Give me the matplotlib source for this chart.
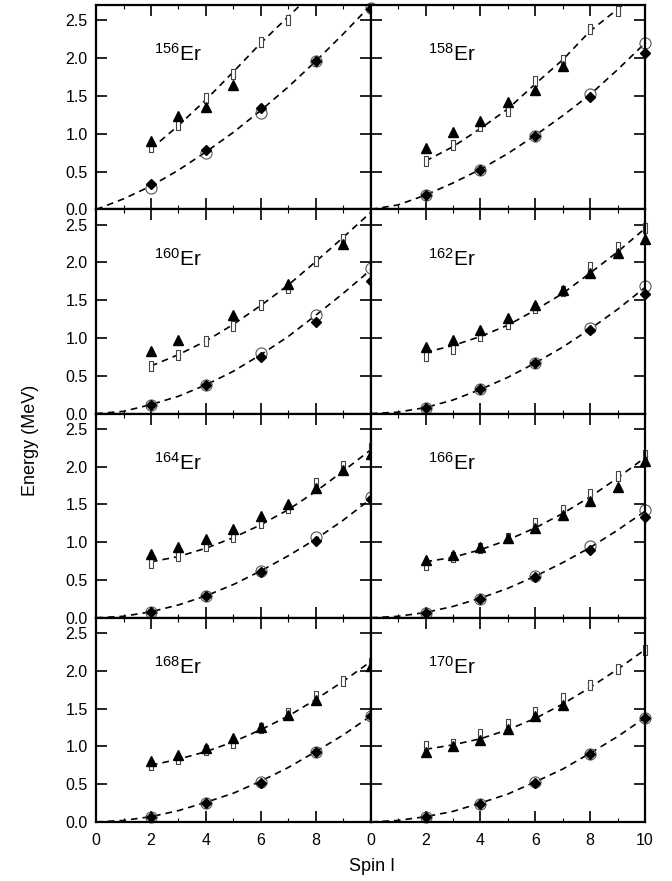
import numpy as np
import matplotlib
matplotlib.use('Agg')
import matplotlib.pyplot as plt
from matplotlib.ticker import MultipleLocator, FixedLocator

plt.rcParams['font.family'] = ['Liberation Sans', 'DejaVu Sans']
plt.rcParams['mathtext.fontset'] = 'custom'
plt.rcParams['mathtext.rm'] = 'Liberation Sans'
plt.rcParams['mathtext.default'] = 'rm'

nan = np.nan

# nuclei, in panel order (row by row)
nuclei = ['156', '158', '160', '162', '164', '166', '168', '170']

# ground band
gs_spin = [2, 4, 6, 8, 10]
gs_exp = [
    [0.34, 0.79, 1.34, 1.96, 2.65],
    [0.19, 0.52, 0.97, 1.49, 2.07],
    [0.12, 0.38, 0.75, 1.21, 1.75],
    [0.08, 0.32, 0.67, 1.10, 1.58],
    [0.08, 0.29, 0.60, 1.02, 1.57],
    [0.07, 0.25, 0.54, 0.90, 1.33],
    [0.07, 0.25, 0.52, 0.92, 1.40],
    [0.07, 0.24, 0.52, 0.90, 1.37],
]
gs_th = [
    [0.29, 0.74, 1.28, 1.96, 2.67],
    [0.19, 0.52, 0.97, 1.53, 2.20],
    [0.12, 0.38, 0.80, 1.31, 1.92],
    [0.08, 0.32, 0.67, 1.13, 1.69],
    [0.08, 0.29, 0.62, 1.07, 1.60],
    [0.07, 0.25, 0.55, 0.95, 1.42],
    [0.07, 0.25, 0.53, 0.92, 1.40],
    [0.07, 0.24, 0.53, 0.90, 1.38],
]

# gamma band
gb_spin = [2, 3, 4, 5, 6, 7, 8, 9, 10]
gb_exp = [
    [0.91, 1.23, 1.35, 1.65, nan, nan, nan, nan, nan],
    [0.81, 1.03, 1.17, 1.42, 1.58, 1.90, nan, nan, nan],
    [0.83, 0.97, nan, 1.30, nan, 1.71, nan, 2.24, nan],
    [0.88, 0.98, 1.10, 1.26, 1.43, 1.64, 1.86, 2.12, 2.31],
    [0.84, 0.93, 1.04, 1.18, 1.34, 1.51, 1.72, 1.95, 2.17],
    [0.76, 0.83, 0.93, 1.05, 1.19, 1.36, 1.54, 1.73, 2.08],
    [0.81, 0.89, 0.98, 1.11, 1.25, 1.42, 1.61, nan, 2.06],
    [0.93, 1.00, 1.09, 1.23, 1.40, 1.55, nan, nan, nan],
]
gb_th = [
    [0.82, 1.12, 1.48, 1.79, 2.21, 2.51, nan, nan, nan],
    [0.64, 0.85, 1.10, 1.30, 1.70, 1.97, 2.39, 2.63, nan],
    [0.63, 0.78, 0.96, 1.16, 1.43, 1.66, 2.02, 2.31, nan],
    [0.76, 0.86, 1.03, 1.18, 1.40, 1.62, 1.94, 2.20, 2.45],
    [0.72, 0.82, 0.95, 1.07, 1.26, 1.45, 1.78, 2.01, 2.25],
    [0.70, 0.80, 0.92, 1.05, 1.25, 1.42, 1.64, 1.87, 2.15],
    [0.75, 0.83, 0.95, 1.05, 1.24, 1.44, 1.67, 1.87, 2.10],
    [1.00, 1.03, 1.16, 1.29, 1.46, 1.64, 1.81, 2.02, 2.28],
]

# dashed curves
curve_spin = [0, 1, 2, 3, 4, 5, 6, 7, 8, 9, 10]
gs_curve = [
    [0, 0.14, 0.31, 0.52, 0.76, 1.02, 1.31, 1.62, 1.96, 2.32, 2.70],
    [0, 0.06, 0.19, 0.35, 0.53, 0.74, 0.98, 1.24, 1.52, 1.85, 2.20],
    [0, 0.03, 0.12, 0.23, 0.38, 0.56, 0.78, 1.02, 1.30, 1.59, 1.90],
    [0, 0.02, 0.08, 0.18, 0.32, 0.48, 0.67, 0.88, 1.12, 1.38, 1.67],
    [0, 0.02, 0.08, 0.17, 0.29, 0.44, 0.62, 0.82, 1.04, 1.29, 1.57],
    [0, 0.02, 0.07, 0.15, 0.26, 0.39, 0.55, 0.73, 0.93, 1.16, 1.41],
    [0, 0.02, 0.07, 0.15, 0.26, 0.38, 0.54, 0.72, 0.93, 1.15, 1.40],
    [0, 0.02, 0.07, 0.14, 0.25, 0.37, 0.53, 0.70, 0.91, 1.13, 1.38],
]
gb_curve = [
    [0.80, 1.11, 1.45, 1.82, 2.20, 2.55, 2.90, nan, nan],
    [0.64, 0.83, 1.07, 1.33, 1.66, 1.98, 2.36, 2.65, 2.95],
    [0.63, 0.78, 0.96, 1.18, 1.43, 1.70, 2.01, 2.33, 2.66],
    [0.81, 0.90, 1.02, 1.17, 1.37, 1.59, 1.86, 2.14, 2.45],
    [0.74, 0.81, 0.92, 1.06, 1.23, 1.43, 1.67, 1.94, 2.22],
    [0.74, 0.80, 0.90, 1.03, 1.19, 1.38, 1.60, 1.85, 2.12],
    [0.75, 0.83, 0.93, 1.06, 1.22, 1.40, 1.62, 1.86, 2.12],
    [0.96, 1.02, 1.10, 1.22, 1.37, 1.56, 1.78, 2.02, 2.28],
]

# tall open rectangle marker for the theory gamma points
rect = [(-0.45, -1), (0.45, -1), (0.45, 1), (-0.45, 1), (-0.45, -1)]

fig, axes = plt.subplots(4, 2, figsize=(6.72, 8.81), dpi=100)
fig.subplots_adjust(left=0.143, right=0.960, top=0.994, bottom=0.067,
                    hspace=0, wspace=0)

for k, ax in enumerate(axes.flat):
    row, col = divmod(k, 2)
    ax.plot(curve_spin, gs_curve[k], ls=(0, (4, 3)), color='k', lw=1.2)
    ax.plot(gb_spin, gb_curve[k], ls=(0, (4, 3)), color='k', lw=1.2)
    ax.plot(gs_spin, gs_th[k], ls='none', marker='o', ms=8, mfc='none',
            mec='#555555', mew=0.8, clip_on=False)
    ax.plot(gs_spin, gs_exp[k], ls='none', marker='D', ms=5.5, color='k',
            clip_on=False)
    ax.plot(gb_spin, gb_th[k], ls='none', marker=rect, ms=7, mfc='white',
            mec='#444444', mew=0.8, clip_on=False)
    ax.plot(gb_spin, gb_exp[k], ls='none', marker='^', ms=7.5, color='k',
            clip_on=False)

    ax.text(0.21, 0.76, r'$^{' + nuclei[k] + r'}$Er', transform=ax.transAxes,
            fontsize=15, ha='left', va='center')

    ax.set_xlim(0, 10)
    ax.set_ylim(0, 2.7)
    ax.xaxis.set_major_locator(MultipleLocator(2))
    ax.xaxis.set_minor_locator(FixedLocator([1, 3, 5, 7, 9]))
    ax.yaxis.set_major_locator(MultipleLocator(0.5))
    ax.tick_params(which='both', direction='in', top=True, right=True,
                   labelsize=11.5)
    ax.tick_params(which='major', length=8, width=1.2)
    ax.tick_params(which='minor', length=3, width=0.8)
    ax.tick_params(axis='x', pad=8)
    ax.tick_params(axis='y', pad=6)
    for s in ax.spines.values():
        s.set_linewidth(1.6)

    if col == 0:
        ax.set_yticklabels(['%.1f' % v for v in ax.get_yticks()])
    else:
        ax.set_yticklabels([])
    if row == 3:
        ax.set_xticks([0, 2, 4, 6, 8, 10])
        if col == 0:
            ax.set_xticklabels(['0', '2', '4', '6', '8', ''])
        else:
            ax.set_xticklabels(['0', '2', '4', '6', '8', '10'])
    else:
        ax.set_xticklabels([])

fig.text(0.045, 0.5, 'Energy (MeV)', rotation=90, ha='center', va='center',
         fontsize=13)
fig.text(0.553, 0.017, 'Spin I', ha='center', va='center', fontsize=13)

fig.savefig('out.png', dpi=100)
